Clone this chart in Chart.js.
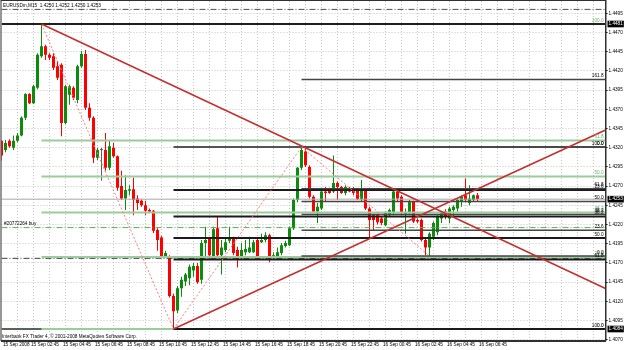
<!DOCTYPE html>
<html>
<head>
<meta charset="utf-8">
<script src="https://cdn.jsdelivr.net/npm/chart.js@4.4.0/dist/chart.umd.min.js"></script>
<style>
  html, body { margin: 0; padding: 0; background: #fff; }
</style>
</head>
<body>
<canvas id="chart" width="625" height="350"></canvas>
<script>
// EURUSDm M15 bars, first bar = 15 Sep 01:00
const opens = [
  1.4329, 1.4317, 1.4329, 1.4320, 1.4329, 1.4336, 1.4359, 1.4390, 1.4378, 1.4398,
  1.4439, 1.4452, 1.4441, 1.4439, 1.4426, 1.4428, 1.4352, 1.4389, 1.4398, 1.4382,
  1.4426, 1.4442, 1.4372, 1.4359, 1.4307, 1.4317, 1.4317, 1.4294, 1.4320, 1.4309,
  1.4270, 1.4254, 1.4264, 1.4266, 1.4254, 1.4251, 1.4245, 1.4239, 1.4238, 1.4213,
  1.4203, 1.4179, 1.4179, 1.4127, 1.4108, 1.4137, 1.4146, 1.4150, 1.4160, 1.4166,
  1.4148, 1.4196, 1.4201, 1.4178, 1.4215, 1.4180, 1.4187, 1.4199, 1.4203, 1.4187,
  1.4177, 1.4184, 1.4184, 1.4184, 1.4200, 1.4197, 1.4200, 1.4206, 1.4177, 1.4178,
  1.4183, 1.4192, 1.4193, 1.4215, 1.4252, 1.4294, 1.4315, 1.4295, 1.4256, 1.4237,
  1.4241, 1.4263, 1.4266, 1.4263, 1.4274, 1.4269, 1.4261, 1.4267, 1.4267, 1.4265,
  1.4253, 1.4265, 1.4241, 1.4232, 1.4232, 1.4228, 1.4219, 1.4232, 1.4235, 1.4263,
  1.4256, 1.4234, 1.4235, 1.4250, 1.4226, 1.4226, 1.4200, 1.4190, 1.4204, 1.4210,
  1.4228, 1.4237, 1.4228, 1.4239, 1.4241, 1.4250, 1.4258, 1.4248, 1.4252, 1.4258
];
const highs = [
  1.4330, 1.4330, 1.4331, 1.4336, 1.4339, 1.4361, 1.4391, 1.4391, 1.4402, 1.4443,
  1.4481, 1.4454, 1.4443, 1.4443, 1.4433, 1.4430, 1.4402, 1.4402, 1.4400, 1.4428,
  1.4446, 1.4447, 1.4378, 1.4361, 1.4320, 1.4320, 1.4339, 1.4329, 1.4326, 1.4310,
  1.4290, 1.4284, 1.4271, 1.4281, 1.4258, 1.4253, 1.4251, 1.4241, 1.4239, 1.4215,
  1.4205, 1.4186, 1.4180, 1.4130, 1.4140, 1.4152, 1.4157, 1.4168, 1.4170, 1.4170,
  1.4200, 1.4217, 1.4203, 1.4217, 1.4230, 1.4200, 1.4202, 1.4217, 1.4204, 1.4191,
  1.4196, 1.4200, 1.4204, 1.4200, 1.4203, 1.4208, 1.4210, 1.4208, 1.4184, 1.4190,
  1.4196, 1.4199, 1.4217, 1.4254, 1.4295, 1.4321, 1.4319, 1.4297, 1.4258, 1.4248,
  1.4265, 1.4269, 1.4268, 1.4310, 1.4276, 1.4270, 1.4271, 1.4269, 1.4269, 1.4267,
  1.4278, 1.4267, 1.4243, 1.4234, 1.4234, 1.4230, 1.4237, 1.4241, 1.4267, 1.4267,
  1.4258, 1.4241, 1.4252, 1.4251, 1.4228, 1.4228, 1.4203, 1.4210, 1.4224, 1.4232,
  1.4237, 1.4240, 1.4243, 1.4245, 1.4254, 1.4258, 1.4280, 1.4271, 1.4259, 1.4261
];
const lows = [
  1.4303, 1.4314, 1.4320, 1.4317, 1.4327, 1.4335, 1.4356, 1.4377, 1.4377, 1.4396,
  1.4437, 1.4434, 1.4434, 1.4421, 1.4408, 1.4335, 1.4351, 1.4376, 1.4382, 1.4378,
  1.4424, 1.4369, 1.4355, 1.4300, 1.4304, 1.4277, 1.4290, 1.4291, 1.4307, 1.4264,
  1.4252, 1.4239, 1.4258, 1.4232, 1.4239, 1.4243, 1.4232, 1.4235, 1.4209, 1.4186,
  1.4177, 1.4177, 1.4125, 1.4084, 1.4105, 1.4126, 1.4140, 1.4141, 1.4152, 1.4143,
  1.4143, 1.4178, 1.4174, 1.4177, 1.4178, 1.4155, 1.4184, 1.4196, 1.4180, 1.4164,
  1.4174, 1.4180, 1.4183, 1.4183, 1.4177, 1.4196, 1.4197, 1.4171, 1.4174, 1.4174,
  1.4180, 1.4190, 1.4192, 1.4213, 1.4249, 1.4291, 1.4295, 1.4254, 1.4235, 1.4222,
  1.4239, 1.4250, 1.4260, 1.4261, 1.4252, 1.4260, 1.4258, 1.4262, 1.4258, 1.4252,
  1.4250, 1.4239, 1.4203, 1.4213, 1.4220, 1.4219, 1.4218, 1.4230, 1.4232, 1.4250,
  1.4232, 1.4208, 1.4232, 1.4222, 1.4222, 1.4198, 1.4180, 1.4179, 1.4200, 1.4206,
  1.4222, 1.4227, 1.4222, 1.4230, 1.4237, 1.4243, 1.4250, 1.4245, 1.4250, 1.4250
];
const closes = [
  1.4310, 1.4326, 1.4322, 1.4329, 1.4336, 1.4359, 1.4390, 1.4378, 1.4400, 1.4441,
  1.4452, 1.4441, 1.4437, 1.4424, 1.4411, 1.4352, 1.4400, 1.4400, 1.4385, 1.4426,
  1.4442, 1.4372, 1.4359, 1.4307, 1.4317, 1.4317, 1.4294, 1.4322, 1.4309, 1.4268,
  1.4254, 1.4265, 1.4266, 1.4252, 1.4248, 1.4245, 1.4238, 1.4237, 1.4212, 1.4200,
  1.4179, 1.4183, 1.4127, 1.4107, 1.4137, 1.4148, 1.4155, 1.4165, 1.4166, 1.4145,
  1.4196, 1.4200, 1.4180, 1.4214, 1.4180, 1.4190, 1.4197, 1.4203, 1.4183, 1.4174,
  1.4187, 1.4188, 1.4190, 1.4197, 1.4178, 1.4200, 1.4206, 1.4177, 1.4180, 1.4184,
  1.4193, 1.4196, 1.4215, 1.4252, 1.4294, 1.4317, 1.4297, 1.4256, 1.4237, 1.4243,
  1.4263, 1.4261, 1.4261, 1.4274, 1.4269, 1.4261, 1.4269, 1.4263, 1.4261, 1.4253,
  1.4266, 1.4241, 1.4226, 1.4226, 1.4223, 1.4222, 1.4235, 1.4239, 1.4263, 1.4254,
  1.4235, 1.4235, 1.4250, 1.4224, 1.4224, 1.4200, 1.4190, 1.4208, 1.4222, 1.4230,
  1.4235, 1.4230, 1.4241, 1.4243, 1.4252, 1.4256, 1.4252, 1.4254, 1.4258, 1.4253
];

const priceTicks = [1.4070, 1.4095, 1.4120, 1.4145, 1.4170, 1.4195, 1.4220, 1.4245, 1.4270,
  1.4295, 1.4320, 1.4345, 1.4370, 1.4395, 1.4420, 1.4445, 1.4470, 1.4495];
const markedPrices = [1.4084, 1.4253, 1.4481];
const timeLabels = ['15 Sep 2008', '15 Sep 02:45', '15 Sep 04:45', '15 Sep 06:45', '15 Sep 08:45',
  '15 Sep 10:45', '15 Sep 12:45', '15 Sep 14:45', '15 Sep 16:45', '15 Sep 18:45', '15 Sep 20:45',
  '15 Sep 22:45', '16 Sep 00:45', '16 Sep 02:45', '16 Sep 04:45', '16 Sep 06:45'];

// fibonacci objects: [bar, price] anchors and levels
const fibA = { from: [10, 1.4481], to: [43, 1.4084], ratios: [1, 0.618, 0.5, 0.382, 0.236, 0] };
const fibB = { from: [43, 1.4084], to: [75, 1.4321], ratios: [0, 0.236, 0.382, 0.5, 0.618, 1] };
const fibC = { from: [75, 1.4321], to: [107, 1.4179], ratios: [1.618, 1, 0.618, 0.5, 0.382, 0.236, 0] };

const trendA = [[10, 1.4481], [151, 1.41367]];
const trendB = [[43, 1.4084], [151, 1.4343]];
const bidPrice = 1.4253;
const orderPrice = 1.4216;
const stopPrice = 1.4176;
const takePrice = 1.4500;

const header = 'EURUSDm,M15  1.4250 1.4252 1.4250 1.4253';
const copyright = 'Interbank FX Trader 4, \u00a9 2001-2008 MetaQuotes Software Corp.';
const orderLabel = '#20772264 buy';

const lastSlot = 151;
const BULL = '#0c8c0c', BEAR = '#ff0000', DOJI = '#606060';

// bar index of a time label ("15 Sep 2008" is the first bar)
function barOf(label) {
  const m = label.match(/^(\d+) Sep (\d\d):(\d\d)$/);
  if (!m) return 0;
  return ((+m[1] - 15) * 1440 + (+m[2]) * 60 + (+m[3]) - 60) / 15;
}
const labelAt = new Map(timeLabels.map(t => [barOf(t), t]));

const candleColor = opens.map((o, i) => closes[i] > o ? BULL : (closes[i] < o ? BEAR : DOJI));

function fibLevels(f) {
  const hi = Math.max(f.from[1], f.to[1]), lo = Math.min(f.from[1], f.to[1]);
  return f.ratios.map(r => f.to[1] < f.from[1] ? lo + r * (hi - lo) : hi - r * (hi - lo));
}
function fibNames(f) {
  return f.ratios.map(r => (r * 100).toFixed(1));
}

function seg(p0, p1, color, width, dash, order) {
  return {
    type: 'line',
    data: [{ x: p0[0], y: p0[1] }, { x: p1[0], y: p1[1] }],
    borderColor: color,
    borderWidth: width,
    borderDash: dash || [],
    pointRadius: 0,
    fill: false,
    tension: 0,
    order: order
  };
}

const datasets = [];
datasets.push({
  type: 'bar',
  data: opens.map((o, i) => ({ x: i, y: [lows[i], highs[i]] })),
  backgroundColor: candleColor,
  barThickness: 1,
  grouped: false,
  borderWidth: 0,
  inflateAmount: 0,
  order: 21
});
datasets.push({
  type: 'bar',
  data: opens.map((o, i) => ({ x: i, y: [Math.min(o, closes[i]), Math.max(o, closes[i])] })),
  backgroundColor: candleColor,
  barThickness: 3,
  minBarLength: 1,
  grouped: false,
  borderWidth: 0,
  inflateAmount: 0,
  order: 20
});

// order / stop lines and bid line
datasets.push(seg([0, takePrice], [lastSlot, takePrice], '#505050', 1, [6, 2, 1, 2], 12));
datasets.push(seg([0, stopPrice], [lastSlot, stopPrice], '#404040', 1, [6, 2, 1, 2], 12));
datasets.push(seg([0, bidPrice], [lastSlot, bidPrice], '#a8a8a8', 1, [], 11));
datasets.push(seg([0, orderPrice], [lastSlot, orderPrice], '#58b058', 1, [6, 2, 1, 2], 11));

// fibonacci levels
fibLevels(fibA).forEach(p => datasets.push(seg([fibA.from[0], p], [lastSlot, p], '#9ccc9c', 2, [], 9)));
fibLevels(fibB).forEach((p, k) => datasets.push(
  seg([fibB.from[0], p], [lastSlot, p], k === 0 ? '#555555' : '#1a1a1a', 2, [], 8)));
fibLevels(fibC).forEach(p => datasets.push(seg([fibC.from[0], p], [lastSlot, p], '#454545', 1.4, [], 7)));
[fibA, fibB, fibC].forEach(f => datasets.push(seg(f.from, f.to, '#ff7a7a', 1, [2, 2], 6)));

// marked horizontal lines
datasets.push(seg([0, 1.4481], [lastSlot, 1.4481], '#202020', 2, [], 5));
datasets.push(seg([0, 1.4084], [fibA.from[0], 1.4084], '#203020', 1.5, [], 5));

// trendlines
datasets.push(seg(trendA[0], trendA[1], '#c42e2e', 1.5, [], 2));
datasets.push(seg(trendB[0], trendB[1], '#c42e2e', 1.5, [], 2));

const marked = new Set(markedPrices.map(v => v.toFixed(4)));
const isMarked = v => marked.has(Number(v).toFixed(4));

const mt4Text = {
  id: 'mt4Text',
  afterDraw(chart) {
    const { ctx, chartArea: a, scales: { y } } = chart;
    ctx.save();
    ctx.font = '4.7px "Liberation Sans"';
    ctx.textBaseline = 'middle';
    ctx.fillStyle = '#000';
    ctx.fillText(header, 3, 5.5);
    ctx.fillText(copyright, 2, 336.5);
    ctx.fillText(orderLabel, 4, y.getPixelForValue(orderPrice) - 3.5);

    ctx.textAlign = 'right';
    [[fibA, '#70b070'], [fibB, '#000'], [fibC, '#000']].forEach(([f, c]) => {
      const names = fibNames(f);
      fibLevels(f).forEach((p, k) => {
        ctx.fillStyle = c;
        ctx.fillText(names[k], a.right - 2, y.getPixelForValue(p) - 3.5);
      });
    });

    ctx.strokeStyle = '#303030';
    ctx.lineWidth = 1;
    ctx.strokeRect(a.left - 0.5, a.top - 0.5, a.right - a.left + 1, a.bottom - a.top);
    ctx.restore();
  }
};

Chart.defaults.font.family = 'Liberation Sans';
Chart.defaults.font.size = 4.7;
Chart.defaults.color = '#000';

new Chart(document.getElementById('chart'), {
  type: 'bar',
  data: { datasets: datasets },
  options: {
    responsive: false,
    animation: false,
    events: [],
    layout: { padding: { left: 1.5, top: 1, right: 0, bottom: 0 } },
    plugins: { legend: { display: false }, tooltip: { enabled: false } },
    scales: {
      x: {
        type: 'linear',
        min: 0,
        max: lastSlot,
        offset: false,
        bounds: 'data',
        afterBuildTicks: s => {
          const vals = new Set(labelAt.keys());
          for (let i = 4; i < lastSlot; i += 4) vals.add(i);
          s.ticks = [...vals].sort((a, b) => a - b).map(v => ({ value: v }));
        },
        afterFit: s => { s.height = 9; s.paddingLeft = 0; s.paddingRight = 0; },
        ticks: {
          autoSkip: false,
          maxRotation: 0,
          minRotation: 0,
          align: 'start',
          padding: 0,
          labelOffset: 1.5,
          callback: v => labelAt.get(v) || ''
        },
        grid: {
          offset: false,
          color: c => (c.tick && c.tick.value % 4 === 0 && c.tick.value > 0) ? '#c4c4c4' : 'rgba(0,0,0,0)',
          tickLength: 1,
          tickColor: c => (c.tick && labelAt.has(c.tick.value)) ? '#000' : 'rgba(0,0,0,0)'
        },
        border: { display: true, color: '#303030', width: 1, dash: [1, 2] }
      },
      y: {
        type: 'linear',
        position: 'right',
        min: 1.40684,
        max: 1.451094,
        bounds: 'data',
        afterBuildTicks: s => {
          s.ticks = [...priceTicks, ...markedPrices].sort((a, b) => a - b).map(v => ({ value: v }));
        },
        afterFit: s => { s.width = 19.5; s.paddingTop = 0; s.paddingBottom = 0; },
        ticks: {
          autoSkip: false,
          padding: 1,
          callback: v => Number(v).toFixed(4),
          color: c => isMarked(c.tick.value) ? '#fff' : '#000',
          showLabelBackdrop: true,
          backdropColor: c => isMarked(c.tick.value) ? '#000' : 'rgba(0,0,0,0)',
          backdropPadding: { top: 0.5, bottom: 0.5, left: 1, right: 1 }
        },
        grid: {
          color: c => (c.tick && isMarked(c.tick.value)) ? 'rgba(0,0,0,0)' : '#c4c4c4',
          tickLength: 2,
          tickColor: c => (c.tick && isMarked(c.tick.value)) ? 'rgba(0,0,0,0)' : '#000'
        },
        border: { display: true, color: '#303030', width: 1, dash: [1, 2] }
      }
    }
  },
  plugins: [mt4Text]
});
</script>
</body>
</html>
